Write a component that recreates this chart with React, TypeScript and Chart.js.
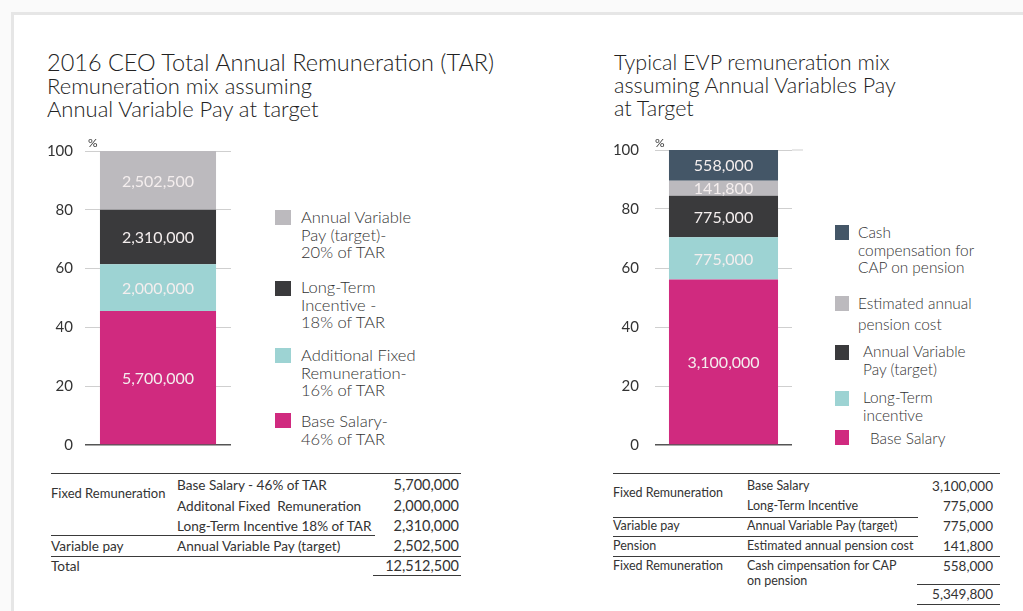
import React, { useEffect, useRef } from "react";
import { Chart, registerables } from "chart.js";
Chart.register(...registerables);

// ---------- DATA ----------
const ceoNames = ["Base Salary", "Additional Fixed Remuneration", "Long-Term Incentive", "Annual Variable Pay (target)"];
const ceoAmounts = [5700000, 2000000, 2310000, 2502500];
const ceoPercent = [45.6, 15.9, 18.5, 20.0];

const evpNames = ["Base Salary", "Long-Term incentive", "Annual Variable Pay (target)", "Estimated annual pension cost", "Cash compensation for CAP on pension"];
const evpAmounts = [3100000, 775000, 775000, 141800, 558000];
const evpPercent = [56.1, 14.3, 14.1, 5.1, 10.4];

const yTicks = [0, 20, 40, 60, 80, 100];

const PINK = "#D02A7F";
const TEAL = "#9DD3D3";
const DARK = "#3A3A3C";
const GREY = "#BCBABE";
const SLATE = "#445667";
const ceoColors = [PINK, TEAL, DARK, GREY];
const evpColors = [PINK, TEAL, DARK, GREY, SLATE];

const FONT = "Lato, 'Open Sans', sans-serif";
const TXT = "#333333";

type BarProps = {
  names: string[];
  amounts: number[];
  percent: number[];
  colors: string[];
  left: number;
  top: number;
  width: number;
  height: number;
  axisWidth: number;
  tickPad: number;
  barFrac: number;
  topExtend: number;
};

function StackBar(p: BarProps) {
  const ref = useRef<HTMLCanvasElement | null>(null);
  useEffect(() => {
    if (!ref.current) return;
    const labelPlugin = {
      id: "segLabels",
      beforeDatasetsDraw(chart: any) {
        if (!p.topExtend) return;
        const { ctx, chartArea } = chart;
        const y = chart.scales.y.getPixelForValue(100);
        ctx.save();
        ctx.strokeStyle = "#cfcfcf";
        ctx.lineWidth = 1;
        ctx.beginPath();
        ctx.moveTo(chartArea.right, y);
        ctx.lineTo(chartArea.right + p.topExtend, y);
        ctx.stroke();
        ctx.restore();
      },
      afterDatasetsDraw(chart: any) {
        const { ctx } = chart;
        ctx.save();
        ctx.font = `16px ${FONT}`;
        ctx.fillStyle = "#F4EEEE";
        ctx.textAlign = "center";
        ctx.textBaseline = "middle";
        chart.data.datasets.forEach((ds: any, i: number) => {
          const meta = chart.getDatasetMeta(i);
          const el = meta.data[0];
          if (!el) return;
          const cy = (el.y + el.base) / 2;
          ctx.fillText(p.amounts[i].toLocaleString("en-US"), el.x, cy + 1);
        });
        ctx.restore();
      },
    };
    const chart = new Chart(ref.current, {
      type: "bar",
      data: {
        labels: [""],
        datasets: p.percent.map((v, i) => ({
          label: p.names[i],
          data: [v],
          backgroundColor: p.colors[i],
          borderWidth: 0,
          barPercentage: 1,
          categoryPercentage: p.barFrac,
        })),
      },
      options: {
        responsive: false,
        maintainAspectRatio: false,
        animation: false,
        devicePixelRatio: 1,
        layout: { padding: { top: 0, right: 20, bottom: 0, left: 0 } },
        plugins: { legend: { display: false }, tooltip: { enabled: false } },
        scales: {
          x: { stacked: true, display: false },
          y: {
            stacked: true,
            min: 0,
            max: 100,
            afterBuildTicks: (s: any) => {
              s.ticks = yTicks.map((v) => ({ value: v }));
            },
            afterFit: (s: any) => {
              s.width = p.axisWidth;
            },
            border: { display: false },
            grid: {
              drawTicks: false,
              color: (c: any) => (c.tick && c.tick.value === 0 ? "#555555" : "#cfcfcf"),
              lineWidth: (c: any) => (c.tick && c.tick.value === 0 ? 1.5 : 1),
            },
            ticks: {
              padding: p.tickPad,
              color: TXT,
              font: { family: FONT, size: 15 },
              callback: (v: any) => String(v),
            },
          },
        },
      },
      plugins: [labelPlugin],
    } as any);
    return () => chart.destroy();
  }, []);
  return (
    <canvas
      ref={ref}
      width={p.width}
      height={p.height}
      style={{ position: "absolute", left: p.left, top: p.top, width: p.width, height: p.height }}
    />
  );
}

function T(props: { x: number; y: number; size: number; children: any; right?: boolean; lh?: number; weight?: number; color?: string }) {
  const lh = props.lh ?? props.size + 3;
  const style: any = {
    position: "absolute",
    top: props.y - lh / 2,
    fontSize: props.size,
    lineHeight: lh + "px",
    fontFamily: FONT,
    color: props.color ?? TXT,
    whiteSpace: "pre",
    fontWeight: props.weight ?? 400,
  };
  if (props.right) style.right = 1023 - props.x;
  else style.left = props.x;
  return <div style={style}>{props.children}</div>;
}

function HLine(props: { x1: number; x2: number; y: number; w?: number }) {
  return (
    <div
      style={{
        position: "absolute",
        left: props.x1,
        top: props.y,
        width: props.x2 - props.x1,
        height: 0,
        borderTop: `${props.w ?? 1.2}px solid #3a3a3a`,
      }}
    />
  );
}

function Sq(props: { x: number; y: number; w: number; h: number; c: string }) {
  return <div style={{ position: "absolute", left: props.x, top: props.y, width: props.w, height: props.h, background: props.c }} />;
}

function LegendText(props: { x: number; top: number; lh: number; size: number; lines: string[] }) {
  return (
    <div
      style={{
        position: "absolute",
        left: props.x,
        top: props.top,
        fontSize: props.size,
        lineHeight: props.lh + "px",
        fontFamily: FONT,
        color: TXT,
        whiteSpace: "pre",
        fontWeight: 300,
      }}
    >
      {props.lines.map((l, i) => (
        <div key={i}>{l}</div>
      ))}
    </div>
  );
}

export default function App() {
  const titleStyle: any = {
    position: "absolute",
    top: 51,
    fontSize: 22,
    lineHeight: "23px",
    fontFamily: FONT,
    fontWeight: 300,
    color: "#222",
    whiteSpace: "pre",
  };
  return (
    <div style={{ position: "absolute", left: 0, top: 0, width: 1023, height: 611, background: "#ffffff", overflow: "hidden" }}>
      <div style={{ position: "absolute", left: 0, top: 0, width: 1023, height: 12, background: "#fafafa" }} />
      <div style={{ position: "absolute", left: 0, top: 0, width: 11, height: 611, background: "#fafafa" }} />
      <div
        style={{
          position: "absolute",
          left: 11,
          top: 12,
          width: 1012,
          height: 599,
          borderTop: "3px solid #e6e6e6",
          borderLeft: "3px solid #e6e6e6",
          boxSizing: "border-box",
        }}
      />

      {/* Titles */}
      <div style={{ ...titleStyle, left: 47 }}>
        <div style={{ fontSize: 23.5 }}>2016 CEO Total Annual Remuneration (TAR)</div>
        <div>Remuneration mix assuming</div>
        <div>Annual Variable Pay at target</div>
      </div>
      <div style={{ ...titleStyle, left: 614, fontSize: 21.5 }}>
        <div>Typical EVP remuneration mix</div>
        <div>assuming Annual Variables Pay</div>
        <div>at Target</div>
      </div>

      {/* Charts */}
      <StackBar
        names={ceoNames}
        amounts={ceoAmounts}
        percent={ceoPercent}
        colors={ceoColors}
        left={30}
        top={130}
        width={221}
        height={336}
        axisWidth={55}
        tickPad={12}
        barFrac={0.795}
        topExtend={0}
      />
      <StackBar
        names={evpNames}
        amounts={evpAmounts}
        percent={evpPercent}
        colors={evpColors}
        left={600}
        top={125}
        width={212}
        height={345}
        axisWidth={55}
        tickPad={16}
        barFrac={0.796}
        topExtend={11}
      />
      <T x={88} y={142} size={12}>%</T>
      <T x={655} y={142} size={12}>%</T>

      {/* Left legend */}
      <Sq x={275} y={210} w={16} h={15} c={GREY} />
      <LegendText x={301} top={209} lh={17.5} size={16.5} lines={["Annual Variable", "Pay (target)-", "20% of TAR"]} />
      <Sq x={275} y={281} w={16} h={15} c={DARK} />
      <LegendText x={301} top={279} lh={17.5} size={16.5} lines={["Long-Term", "Incentive -", "18% of TAR"]} />
      <Sq x={275} y={348} w={16} h={15} c={TEAL} />
      <LegendText x={301} top={347} lh={17.5} size={16.5} lines={["Additional Fixed", "Remuneration-", "16% of TAR"]} />
      <Sq x={275} y={413} w={16} h={15} c={PINK} />
      <LegendText x={301} top={413} lh={17.5} size={16.5} lines={["Base Salary-", "46% of TAR"]} />

      {/* Right legend */}
      <Sq x={835} y={225} w={14} h={15} c={SLATE} />
      <LegendText x={858} top={224} lh={17.5} size={15.4} lines={["Cash", "compensation for", "CAP on pension"]} />
      <Sq x={835} y={296} w={14} h={15} c={GREY} />
      <LegendText x={858} top={292.5} lh={21} size={15.4} lines={["Estimated annual", "pension cost"]} />
      <Sq x={835} y={345} w={14} h={15} c={DARK} />
      <LegendText x={863} top={343} lh={17.5} size={15.4} lines={["Annual Variable", "Pay (target)"]} />
      <Sq x={835} y={391} w={14} h={15} c={TEAL} />
      <LegendText x={863} top={389} lh={17.5} size={15.4} lines={["Long-Term", "incentive"]} />
      <Sq x={835} y={430} w={14} h={15} c={PINK} />
      <LegendText x={870} top={430} lh={17.5} size={15.4} lines={["Base Salary"]} />

      {/* Left table */}
      <HLine x1={51} x2={461} y={473} />
      <T x={51} y={493} size={13}>Fixed Remuneration</T>
      <T x={177} y={485} size={13.6}>Base Salary - 46% of TAR</T>
      <T x={177} y={506} size={13.6}>{"Additonal Fixed  Remuneration"}</T>
      <T x={177} y={526} size={13.6}>Long-Term Incentive 18% of TAR</T>
      <HLine x1={51} x2={375} y={535} />
      <T x={51} y={546} size={13.6}>Variable pay</T>
      <T x={177} y={546} size={13.6}>Annual Variable Pay (target)</T>
      <HLine x1={51} x2={461} y={556} />
      <T x={51} y={566} size={13.6}>Total</T>
      <HLine x1={373} x2={461} y={575} />
      <T x={459} y={485} size={14.5} right>5,700,000</T>
      <T x={459} y={506} size={14.5} right>2,000,000</T>
      <T x={459} y={526} size={14.5} right>2,310,000</T>
      <T x={459} y={546} size={14.5} right>2,502,500</T>
      <T x={459} y={566} size={14.5} right>12,512,500</T>

      {/* Right table */}
      <HLine x1={613} x2={1000} y={473} />
      <T x={613} y={493} size={12.5}>Fixed Remuneration</T>
      <T x={747} y={486} size={12.5}>Base Salary</T>
      <T x={993} y={486} size={13.5} right>3,100,000</T>
      <T x={747} y={506} size={12.5}>Long-Term Incentive</T>
      <T x={993} y={506} size={13.5} right>775,000</T>
      <HLine x1={613} x2={918} y={517} />
      <T x={613} y={526} size={12.5}>Variable pay</T>
      <T x={747} y={526} size={12.5}>Annual Variable Pay (target)</T>
      <T x={993} y={526} size={13.5} right>775,000</T>
      <HLine x1={613} x2={918} y={536} />
      <T x={613} y={546} size={12.5}>Pension</T>
      <T x={747} y={546} size={12.5}>Estimated annual pension cost</T>
      <T x={993} y={546} size={13.5} right>141,800</T>
      <HLine x1={613} x2={1000} y={556} />
      <T x={613} y={566} size={12.5}>Fixed Remuneration</T>
      <T x={747} y={566} size={12.5}>Cash cimpensation for CAP</T>
      <T x={747} y={581} size={12.5}>on pension</T>
      <T x={993} y={566} size={13.5} right>558,000</T>
      <HLine x1={917} x2={1000} y={584} />
      <T x={993} y={594} size={13.5} right>5,349,800</T>
      <HLine x1={917} x2={1000} y={604} />
    </div>
  );
}
